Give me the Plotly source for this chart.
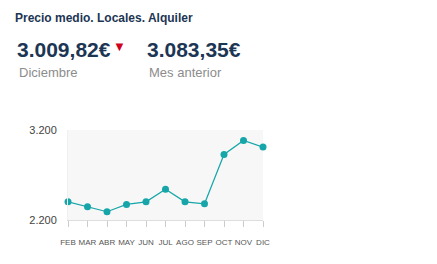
import plotly.graph_objects as go

months = ["FEB", "MAR", "ABR", "MAY", "JUN", "JUL", "AGO", "SEP", "OCT", "NOV", "DIC"]
values = [2402, 2347, 2292, 2373, 2402, 2542, 2402, 2380, 2928, 3083.35, 3009.82]
y_ticks = [2200, 3200]
y_ticktext = ["2.200", "3.200"]

title = "Precio medio. Locales. Alquiler"
current_value = "3.009,82€"
current_label = "Diciembre"
prev_value = "3.083,35€"
prev_label = "Mes anterior"

L, R, T, B = 68, 263, 130, 220
W, H = 437, 264

def px(x):
    return (x - L) / (R - L)

def py(y):
    return (B - y) / (B - T)

fig = go.Figure()
fig.add_trace(go.Scatter(
    x=months, y=values, mode="lines+markers",
    line=dict(color="#16a6a9", width=1.2),
    marker=dict(color="#16a6a9", size=7),
    hoverinfo="skip", cliponaxis=False,
))

font = "Liberation Sans, Arial, sans-serif"
ann = [
    dict(text="<b>" + title + "</b>", x=px(13), y=py(18), size=12, color="#1c3654"),
    dict(text="<b>" + current_value + "</b>", x=px(15), y=py(49), size=21, color="#1c3654"),
    dict(text=current_label, x=px(17), y=py(72), size=13, color="#8c8c8c"),
    dict(text="<b>" + prev_value + "</b>", x=px(145), y=py(49), size=21, color="#1c3654"),
    dict(text=prev_label, x=px(147), y=py(72), size=13, color="#8c8c8c"),
    dict(text="▼", x=px(111), y=py(46), size=13, color="#d0021b"),
]
annotations = [
    dict(text=a["text"], x=a["x"], y=a["y"], xref="paper", yref="paper",
         xanchor="left", yanchor="middle", showarrow=False,
         font=dict(family=font, size=a["size"], color=a["color"]))
    for a in ann
]

fig.update_layout(
    width=W, height=H,
    margin=dict(l=L, r=W - R, t=T, b=H - B, pad=0, autoexpand=False),
    paper_bgcolor="white", plot_bgcolor="#f7f7f7",
    showlegend=False,
    font=dict(family=font),
    annotations=annotations,
    xaxis=dict(
        type="category", range=[0, len(months) - 1],
        automargin=False,
        showgrid=False, zeroline=False,
        showline=True, linecolor="#dddddd", linewidth=1,
        ticks="outside", ticklen=6, tickcolor="#cccccc", tickwidth=1,
        tickangle=0,
        tickfont=dict(size=8, color="#555555"),
        ticklabelstandoff=8,
    ),
    yaxis=dict(
        range=[2200, 3200], tickvals=y_ticks, ticktext=y_ticktext,
        automargin=False,
        showgrid=True, gridcolor="#e8e8e8", zeroline=False,
        showline=True, linecolor="#f0f0f0",
        ticks="", tickfont=dict(size=11, color="#444444"),
        ticklabelstandoff=8,
    ),
)

fig.write_html("out.html")
